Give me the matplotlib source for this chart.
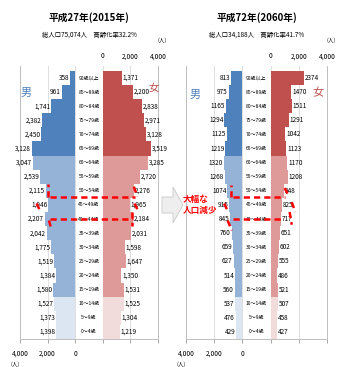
import numpy as np
import matplotlib.pyplot as plt
from matplotlib.patches import FancyArrow

plt.rcParams['font.family'] = ['Noto Sans CJK JP', 'DejaVu Sans']

# age groups, bottom to top
ages = ['0～4歳', '5～9歳', '10～14歳', '15～19歳', '20～24歳', '25～29歳',
        '30～34歳', '35～39歳', '40～44歳', '45～49歳', '50～54歳', '55～59歳',
        '60～64歳', '65～69歳', '70～74歳', '75～79歳', '80～84歳', '85～89歳',
        '90歳以上']

male_2015 = [1398, 1373, 1527, 1580, 1384, 1519, 1775, 2042, 2207, 1946,
             2115, 2539, 3047, 3128, 2450, 2382, 1741, 961, 358]
female_2015 = [1219, 1304, 1525, 1531, 1350, 1647, 1598, 2031, 2184, 1965,
               2276, 2720, 3285, 3519, 3128, 2971, 2838, 2200, 1371]
male_2060 = [429, 476, 537, 560, 514, 627, 659, 760, 845, 915,
             1074, 1268, 1320, 1219, 1125, 1294, 1165, 975, 813]
female_2060 = [427, 458, 507, 521, 486, 555, 602, 651, 717, 825,
               948, 1208, 1170, 1123, 1042, 1291, 1511, 1470, 2374]

titles = ['平成27年(2015年)', '平成72年(2060年)']
subtitles = ['総人口75,074人　高齢化率32.2%', '総人口34,188人　高齢化率41.7%']

W, H = 341, 367
C = 1000  # half width of the age label column (data units)

male_cols = ['#dce6f2', '#95b3d7', '#4f81bd']
female_cols = ['#f2dcdb', '#dd9a98', '#c0504d']


def col(i, cols):
    if i < 3:
        return cols[0]
    if i < 13:
        return cols[1]
    return cols[2]


def fx(px):
    return px / W


def fy(py):
    return 1 - py / H


fig = plt.figure(figsize=(W / 100, H / 100), dpi=100)

panels = [(20, 158, male_2015, female_2015, True),
          (186, 327, male_2060, female_2060, False)]

axes = []
for k, (x0, x1, male, female, commas) in enumerate(panels):
    ax = fig.add_axes([fx(x0), fy(339), fx(x1) - fx(x0), fy(66) - fy(339)])
    axes.append(ax)
    y = np.arange(len(ages))
    ax.barh(y, [-v for v in male], left=-C, height=1.0,
            color=[col(i, male_cols) for i in y], zorder=2)
    ax.barh(y, female, left=C, height=1.0,
            color=[col(i, female_cols) for i in y], zorder=2)
    for i in y:
        fmt = '{:,}' if commas else '{}'
        ax.text(-C - male[i] - 60, i, fmt.format(male[i]), ha='right',
                va='center', fontsize=4.6)
        ax.text(C + female[i] + 60, i, fmt.format(female[i]), ha='left',
                va='center', fontsize=4.6)
        ax.text(0, i, ages[i], ha='center', va='center', fontsize=3.6)
    ax.set_xlim(-5000, 5000)
    ax.set_ylim(-0.5, 18.85)
    ax.set_yticks([])
    ax.set_xticks([-5000, -3000, -1000, 1000, 3000, 5000])
    ax.set_xticklabels(['4,000', '2,000', '0', '', '', ''], fontsize=4.8)
    ax.tick_params(axis='x', length=3, width=0.6, color='#999999', pad=5)
    ax.grid(axis='x', color='#d9d9d9', linewidth=0.6, zorder=0)
    for s in ['left', 'right', 'bottom']:
        ax.spines[s].set_color('#bfbfbf')
        ax.spines[s].set_linewidth(0.7)
    ax.spines['top'].set_visible(False)
    sec = ax.secondary_xaxis('top')
    sec.set_xticks([1000, 3000, 5000])
    sec.set_xticklabels(['0', '2,000', '4,000'], fontsize=4.8)
    sec.tick_params(length=0, pad=4)
    sec.spines['top'].set_visible(False)

    cx = (x0 + x1) / 2
    fig.text(fx(cx), fy(18), titles[k], ha='center', va='center',
             fontsize=7, fontweight='bold')
    fig.text(fx(cx), fy(35), subtitles[k], ha='center', va='center',
             fontsize=4.6)
    fig.text(fx(x1 + 4), fy(40), '(人)', ha='center', va='center', fontsize=4)
    fig.text(fx(x0 - 5), fy(364), '(人)', ha='center', va='center', fontsize=4)

# 男 / 女
fig.text(fx(26), fy(93), '男', color='#4f81bd', fontsize=8, ha='center', va='center')
fig.text(fx(154), fy(88), '女', color='#c0504d', fontsize=7.5, ha='center', va='center')
fig.text(fx(195), fy(95), '男', color='#4f81bd', fontsize=8, ha='center', va='center')
fig.text(fx(318), fy(93), '女', color='#c0504d', fontsize=8, ha='center', va='center')

# red dashed marks
dash = dict(color='red', linewidth=1.8, linestyle=(0, (2.5, 1.6)), zorder=5,
            solid_capstyle='butt')
ax = axes[0]
ax.plot([-2800, 3300], [9.55, 9.55], **dash)
ax.plot([-2850, 3200], [8.0, 8.0], **dash)
ax.plot([-2950, -2950], [9.6, 10.5], **dash)
ax.plot([3250, 3500], [10.3, 9.6], **dash)
ax.plot([-3800, -3500], [9.1, 8.5], **dash)
ax.plot([3300, 3550], [9.1, 8.6], **dash)
ax.plot([-2900, -2700], [7.9, 7.2], **dash)
ax.plot([3150, 3150], [8.5, 7.5], **dash)

ax = axes[1]
ax.plot([-1650, 2050], [9.55, 9.55], **dash)
ax.plot([-1700, 1950], [8.0, 8.0], **dash)
ax.plot([-1800, -1800], [9.6, 10.4], **dash)
ax.plot([2000, 2300], [10.2, 9.6], **dash)
ax.plot([-2300, -2000], [9.1, 8.5], **dash)
ax.plot([2500, 2750], [9.2, 8.5], **dash)
ax.plot([-2050, -1750], [7.9, 7.2], **dash)
ax.plot([2350, 2500], [8.5, 7.6], **dash)

# grey arrow between panels
arr = FancyArrow(fx(162), fy(205), fx(183) - fx(162), 0,
                 width=(fy(197) - fy(213)), head_width=(fy(187) - fy(223)),
                 head_length=fx(10), length_includes_head=True,
                 transform=fig.transFigure, facecolor='#eeeeee',
                 edgecolor='#c8c8c8', linewidth=0.6, zorder=1)
fig.patches.append(arr)

fig.text(fx(183), fy(205), '大幅な\n人口減少', color='red', fontsize=6.2,
         fontweight='bold', ha='left', va='center', linespacing=1.3)

fig.savefig('out.png', dpi=100)
